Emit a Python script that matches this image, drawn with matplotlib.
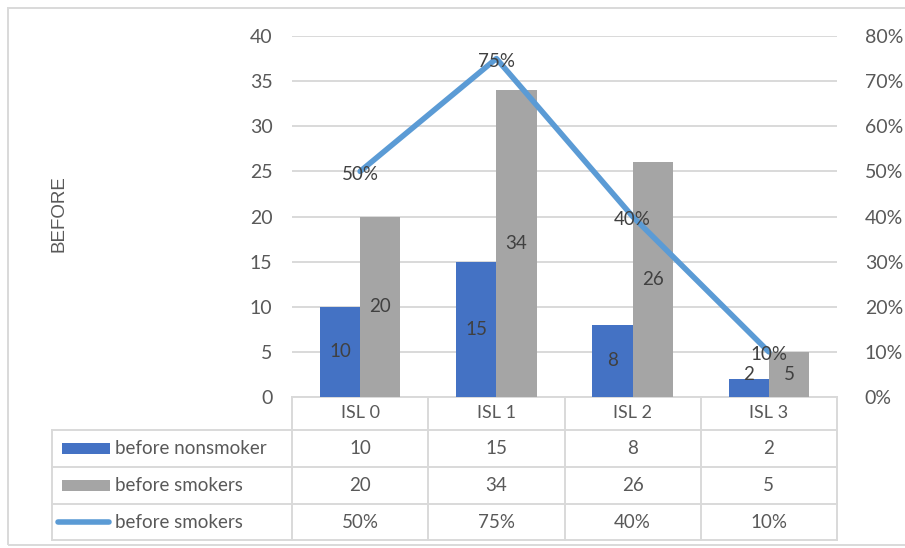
import matplotlib
matplotlib.use("Agg")
import matplotlib.pyplot as plt
from matplotlib.patches import Rectangle
from matplotlib.lines import Line2D
from matplotlib.ticker import MultipleLocator, PercentFormatter

categories = ["ISL 0", "ISL 1", "ISL 2", "ISL 3"]
nonsmoker = [10, 15, 8, 2]
smokers = [20, 34, 26, 5]
smokers_pct = [50, 75, 40, 10]
series_names = ["before nonsmoker", "before smokers", "before smokers"]

BLUE = "#4472C4"
GRAY = "#A5A5A5"
LINE = "#5B9BD5"
GRID = "#D9D9D9"
TEXT = "#404040"
TICK = "#595959"
FONT = ["Lato", "DejaVu Sans"]

W, H = 905, 548
fig = plt.figure(figsize=(W / 100, H / 100), dpi=100)
fig.patch.set_facecolor("white")


def fx(px):
    return px / W


def fy(py):
    return 1 - py / H


# plot area
x0, x1, ytop, ybot = 292, 837, 36, 397
ax = fig.add_axes([fx(x0), fy(ybot), fx(x1) - fx(x0), fy(ytop) - fy(ybot)])
ax2 = ax.twinx()

n = len(categories)
xs = list(range(n))
bw = 0.295
ax.bar([x - bw / 2 for x in xs], nonsmoker, width=bw, color=BLUE, zorder=3)
ax.bar([x + bw / 2 for x in xs], smokers, width=bw, color=GRAY, zorder=3)

for x, v in zip(xs, nonsmoker):
    ax.text(x - bw / 2, max(v / 2, 2.5), str(v), ha="center", va="center",
            fontsize=13.5, color=TEXT, family=FONT, zorder=5)
for x, v in zip(xs, smokers):
    ax.text(x + bw / 2, max(v / 2, 2.5), str(v), ha="center", va="center",
            fontsize=13.5, color=TEXT, family=FONT, zorder=5)

ax.set_xlim(-0.5, n - 0.5)
ax.set_ylim(0, 40)
ax.yaxis.set_major_locator(MultipleLocator(5))
ax.grid(axis="y", color=GRID, linewidth=1.4, zorder=0)
ax.set_axisbelow(True)
ax.set_xticks([])
for s in ax.spines.values():
    s.set_visible(False)
ax.spines["bottom"].set_visible(True)
ax.spines["bottom"].set_color(GRID)
ax.spines["bottom"].set_linewidth(1.4)
ax.tick_params(axis="y", length=0, pad=14, labelsize=14, labelcolor=TICK)
for lab in ax.get_yticklabels():
    lab.set_family(FONT)

ax2.set_zorder(ax.get_zorder() + 1)
ax2.patch.set_visible(False)
ax2.plot(xs, smokers_pct, color=LINE, linewidth=4, solid_capstyle="round",
         solid_joinstyle="round", zorder=4)
for x, v in zip(xs, smokers_pct):
    ax2.text(x, v - 0.6, f"{v}%", ha="center", va="center", fontsize=13.5,
             color=TEXT, family=FONT, zorder=6)
ax2.set_ylim(0, 80)
ax2.yaxis.set_major_locator(MultipleLocator(10))
ax2.yaxis.set_major_formatter(PercentFormatter(decimals=0))
ax2.tick_params(axis="y", length=0, pad=20, labelsize=14, labelcolor=TICK)
for lab in ax2.get_yticklabels():
    lab.set_family(FONT)
for s in ax2.spines.values():
    s.set_visible(False)

# y axis title
fig.text(fx(59), fy(214), "BEFORE", rotation=90, ha="center", va="center",
         fontsize=13.5, color=TICK, family=["Liberation Sans", "DejaVu Sans"])

# data table below the plot area
col_w = (x1 - x0) / n
col_edges = [x0 + i * col_w for i in range(n + 1)]
col_centers = [x0 + (i + 0.5) * col_w for i in range(n)]
row_lines = [430, 467, 504, 540]
tleft = 52


def hline(xa, xb, y):
    fig.add_artist(Line2D([fx(xa), fx(xb)], [fy(y), fy(y)], color=GRID,
                          linewidth=1.4, transform=fig.transFigure))


def vline(x, ya, yb):
    fig.add_artist(Line2D([fx(x), fx(x)], [fy(ya), fy(yb)], color=GRID,
                          linewidth=1.4, transform=fig.transFigure))


for y in row_lines:
    hline(tleft, x1, y)
for x in col_edges:
    vline(x, ybot, row_lines[-1])
vline(tleft, row_lines[0], row_lines[-1])

for cx, c in zip(col_centers, categories):
    fig.text(fx(cx), fy((ybot + row_lines[0]) / 2), c, ha="center", va="center",
             fontsize=13, color=TICK, family=FONT)

rows = [
    [str(v) for v in nonsmoker],
    [str(v) for v in smokers],
    [f"{v}%" for v in smokers_pct],
]
for r, vals in enumerate(rows):
    yc = (row_lines[r] + row_lines[r + 1]) / 2
    for cx, t in zip(col_centers, vals):
        fig.text(fx(cx), fy(yc), t, ha="center", va="center", fontsize=13.5,
                 color=TICK, family=FONT)
    fig.text(fx(115), fy(yc), series_names[r], ha="left", va="center",
             fontsize=13.5, color=TICK, family=FONT)

# legend keys
for r, col in enumerate([BLUE, GRAY]):
    yc = (row_lines[r] + row_lines[r + 1]) / 2
    fig.add_artist(Rectangle((fx(62), fy(yc + 5.5)), fx(110) - fx(62), 11 / H,
                             facecolor=col, edgecolor="none",
                             transform=fig.transFigure))
yc = (row_lines[2] + row_lines[3]) / 2
fig.add_artist(Line2D([fx(58), fx(109)], [fy(yc), fy(yc)], color=LINE,
                      linewidth=4, solid_capstyle="round",
                      transform=fig.transFigure))

# chart border (right edge runs off the canvas)
fig.add_artist(Rectangle((fx(8), fy(545)), fx(W + 20) - fx(8), (545 - 8) / H,
                         facecolor="none", edgecolor=GRID, linewidth=1.4,
                         transform=fig.transFigure))

fig.savefig("out.png", dpi=100)
